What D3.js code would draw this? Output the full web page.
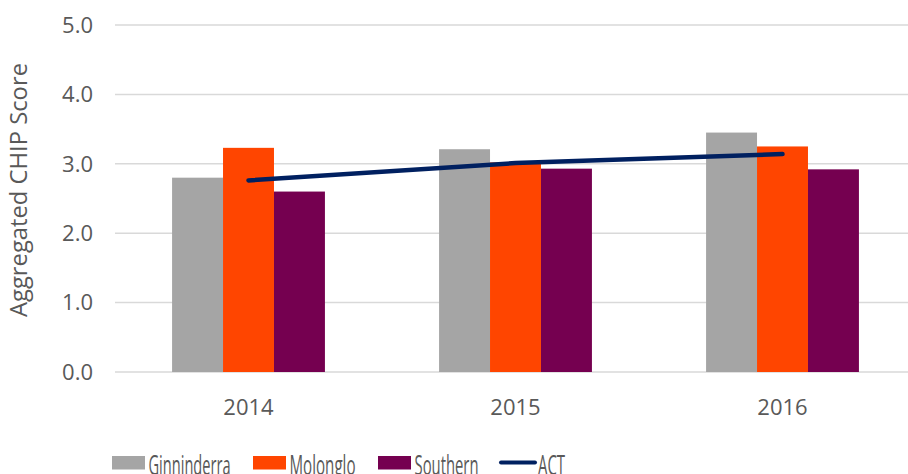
<!DOCTYPE html>
<html>
<head>
<meta charset="utf-8">
<script src="https://cdn.jsdelivr.net/npm/d3@7"></script>
<style>
  body { margin: 0; background: #fff; }
  text { font-family: "Open Sans", sans-serif; fill: #595959; }
</style>
</head>
<body>
<div id="chart"></div>
<script>
// chart values
let years = ["2014", "2015", "2016"];
let seriesNames = ["Ginninderra", "Molonglo", "Southern"];
let ginninderra = [2.8, 3.21, 3.45];
let molonglo = [3.23, 3.02, 3.25];
let southern = [2.6, 2.93, 2.92];
let act = [2.76, 3.01, 3.14];
let yTicks = [0, 1, 2, 3, 4, 5];

let colors = ["#a5a5a5", "#ff4500", "#750050"];
let lineColor = "#002060";

let width = 908, height = 474;
let margin = { top: 25, bottom: 102, right: -8, left: 115 };
let w = width - margin.left - margin.right;
let h = height - margin.top - margin.bottom;

let svg = d3.select("#chart")
    .append("svg")
    .attr("width", width)
    .attr("height", height);

let g = svg.append("g")
    .attr("transform", `translate(${margin.left}, ${margin.top})`);

let x = d3.scaleBand()
    .domain(years)
    .range([0, w]);

// bars inside each year band
let xs = d3.scaleBand()
    .domain(seriesNames)
    .range([0, x.bandwidth()])
    .paddingInner(0)
    .paddingOuter(1.12);

let y = d3.scaleLinear()
    .domain([0, 5])
    .range([h, 0]);

// gridlines
g.append("g")
    .selectAll("line")
    .data(yTicks)
    .join("line")
    .attr("x1", 0)
    .attr("x2", w)
    .attr("y1", d => y(d))
    .attr("y2", d => y(d))
    .attr("stroke", "#d9d9d9")
    .attr("stroke-width", 1.5);

// y tick labels
g.append("g")
    .selectAll("text")
    .data(yTicks)
    .join("text")
    .attr("x", -22)
    .attr("y", d => y(d))
    .attr("dy", "0.35em")
    .attr("text-anchor", "end")
    .style("font-size", "22px")
    .text(d => d.toFixed(1));

// x tick labels
g.append("g")
    .selectAll("text")
    .data(years)
    .join("text")
    .attr("x", d => x(d) + x.bandwidth() / 2)
    .attr("y", h + 43)
    .attr("text-anchor", "middle")
    .style("font-size", "22px")
    .text(d => d);

// bars
let table = years.map((yr, i) => ({
  year: yr,
  values: [ginninderra[i], molonglo[i], southern[i]]
}));

let groups = g.append("g")
    .selectAll("g")
    .data(table)
    .join("g")
    .attr("transform", d => `translate(${x(d.year)}, 0)`);

groups.selectAll("rect")
    .data(d => d.values.map((v, j) => ({ name: seriesNames[j], value: v })))
    .join("rect")
    .attr("x", d => xs(d.name))
    .attr("width", xs.bandwidth())
    .attr("y", d => y(d.value))
    .attr("height", d => h - y(d.value))
    .attr("fill", (d, j) => colors[j]);

// ACT line
let line = d3.line()
    .x((d, i) => x(years[i]) + x.bandwidth() / 2)
    .y(d => y(d));

g.append("path")
    .datum(act)
    .attr("d", line)
    .attr("fill", "none")
    .attr("stroke", lineColor)
    .attr("stroke-width", 4.5)
    .attr("stroke-linecap", "round");

// y axis title
svg.append("text")
    .attr("transform", "translate(27, 190) rotate(-90)")
    .attr("text-anchor", "middle")
    .attr("textLength", 254)
    .attr("lengthAdjust", "spacingAndGlyphs")
    .style("font-size", "23px")
    .text("Aggregated CHIP Score");

// legend (text is narrow in the picture, squeezed to fit)
let legendItems = [
  { name: "Ginninderra", color: colors[0], type: "rect", x: 112, tw: 82 },
  { name: "Molonglo", color: colors[1], type: "rect", x: 253, tw: 66 },
  { name: "Southern", color: colors[2], type: "rect", x: 378, tw: 64 },
  { name: "ACT", color: lineColor, type: "line", x: 500, tw: 27 }
];

let legend = svg.append("g");

legendItems.forEach(function(item) {
  if (item.type === "rect") {
    legend.append("rect")
        .attr("x", item.x)
        .attr("y", 456)
        .attr("width", 33)
        .attr("height", 13.5)
        .attr("fill", item.color);
  } else {
    legend.append("line")
        .attr("x1", item.x + 1)
        .attr("x2", item.x + 35)
        .attr("y1", 462.5)
        .attr("y2", 462.5)
        .attr("stroke", item.color)
        .attr("stroke-width", 4)
        .attr("stroke-linecap", "round");
  }
  legend.append("text")
      .attr("x", item.x + (item.type === "rect" ? 36.5 : 38))
      .attr("y", 475)
      .attr("textLength", item.tw)
      .attr("lengthAdjust", "spacingAndGlyphs")
      .style("font-size", "28px")
      .text(item.name);
});
</script>
</body>
</html>
